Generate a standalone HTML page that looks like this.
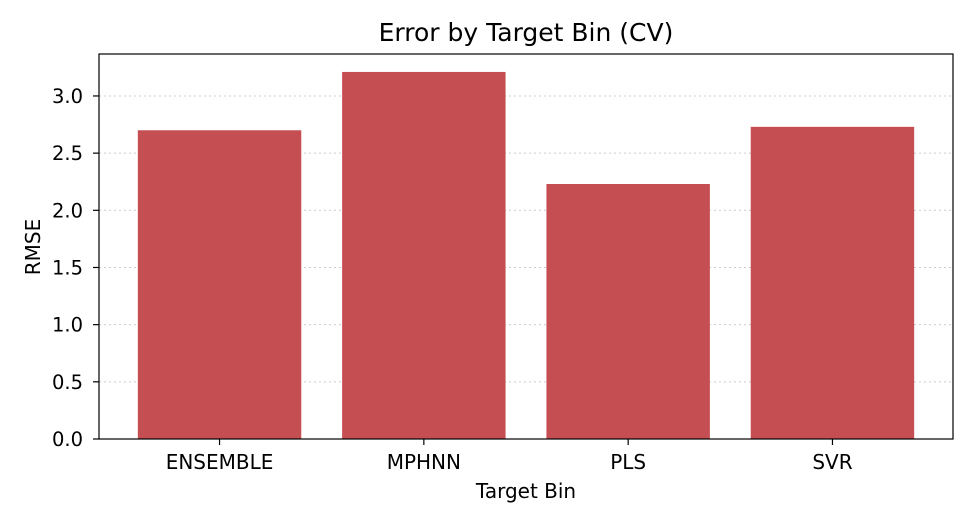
<!DOCTYPE html>
<html><head><meta charset="utf-8"><style>
body{margin:0;background:#fff;}
text{font-family:"DejaVu Sans","Liberation Sans",sans-serif;fill:#000;}
</style></head><body>
<svg id="chart" width="975" height="525" viewBox="0 0 975 525" xmlns="http://www.w3.org/2000/svg">
<rect width="975" height="525" fill="#fff"/>
<text x="526" y="41" font-size="25" text-anchor="middle">Error by Target Bin (CV)</text>
<g id="grid"></g><g id="bars"></g><g id="axes"></g>
<text x="526" y="498" font-size="20" text-anchor="middle">Target Bin</text>
<text transform="translate(40,247) rotate(-90)" font-size="20" text-anchor="middle">RMSE</text>
</svg>
<script>
const categories = ["ENSEMBLE","MPHNN","PLS","SVR"];
const rmseValues = [2.70, 3.21, 2.23, 2.73];
const yTicks = [0.0,0.5,1.0,1.5,2.0,2.5,3.0];
const L=99,R=953,T=54,B=439, yMax=3.367, xMin=-0.59, xMax=3.59;
const ns="http://www.w3.org/2000/svg";
function y(v){return B-(v/yMax)*(B-T);}
function x(i){return L+(i-xMin)/(xMax-xMin)*(R-L);}
function mk(t,a,p){const e=document.createElementNS(ns,t);for(const k in a)e.setAttribute(k,a[k]);p.appendChild(e);return e;}
const g=document.getElementById('grid'),b=document.getElementById('bars'),ax=document.getElementById('axes');
yTicks.forEach(v=>{
 const ln=mk('line',{x1:L,x2:R,y1:y(v),y2:y(v),stroke:'#ccc','stroke-width':1,'stroke-dasharray':'2,3'},g);
 
 
 const tk=mk('line',{x1:L-6,x2:L,y1:y(v),y2:y(v),stroke:'#000','stroke-width':1.2},ax);
 
 
 const t=mk('text',{x:L-16,y:y(v)+7,'font-size':19.5,'text-anchor':'end'},ax);
 t.textContent=v.toFixed(1);
 
 
});
const step=(R-L)/(xMax-xMin), bw=step*0.8;
categories.forEach((c,i)=>{
 const r=mk('rect',{x:x(i)-bw/2,y:y(rmseValues[i]),width:bw,height:B-y(rmseValues[i]),fill:'#c44e52'},b);
 
 
 const tk=mk('line',{x1:x(i),x2:x(i),y1:B,y2:B+6,stroke:'#000','stroke-width':1.2},ax);
 
 
 const t=mk('text',{x:x(i),y:B+30,'font-size':20,'text-anchor':'middle'},ax);
 t.textContent=c;
 
 
});
const fr=mk('rect',{x:L,y:T,width:R-L,height:B-T,fill:'none',stroke:'#000','stroke-width':1.2},ax);


</script>
</body></html>
